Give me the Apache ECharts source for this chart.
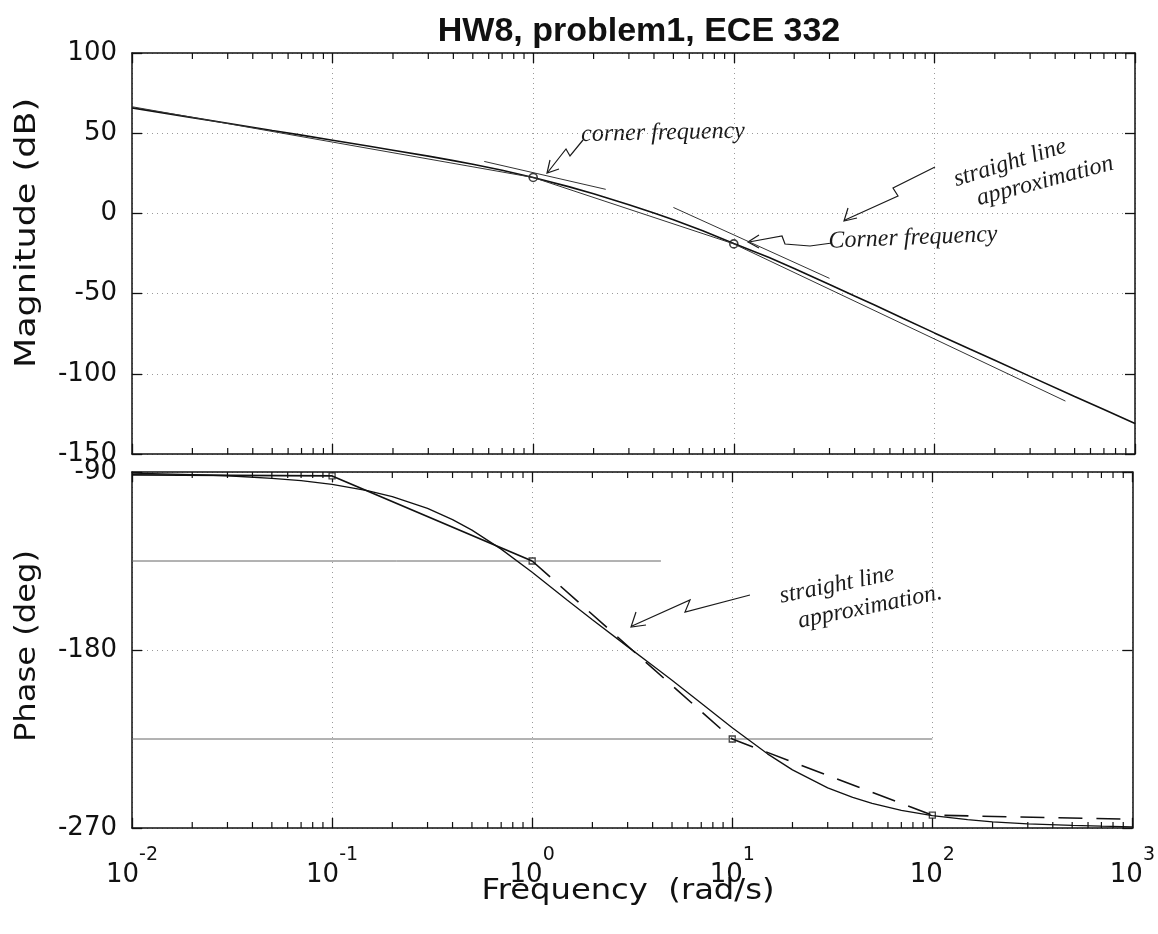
<!DOCTYPE html>
<html>
<head>
<meta charset="utf-8">
<script src="https://cdn.jsdelivr.net/npm/echarts@6/dist/echarts.min.js"></script>
<style>html,body{margin:0;background:#fff}#a{width:1158px;height:934px}</style>
</head>
<body>
<div id="a"></div>
<script>
// bode data
var freq = [0.01,0.02,0.03,0.05,0.07,0.1,0.15,0.2,0.3,0.4,0.5,0.7,1,1.5,2,3,4,5,7,10,15,20,30,40,50,70,100,150,200,300,500,700,1000];
var magDb = [65.8,59.7,56.2,51.7,48.8,45.6,42.0,39.4,35.7,32.9,30.6,26.9,22.4,16.7,12.2,5.4,0.2,-4.0,-10.8,-18.8,-27.5,-34.3,-44.3,-51.5,-57.0,-65.5,-74.5,-84.6,-91.6,-101.6,-114.2,-122.3,-131.0];
var phaseDeg = [-90.6,-91.3,-91.9,-93.2,-94.4,-96.3,-99.4,-102.5,-108.4,-114.1,-119.4,-129.0,-140.7,-154.8,-164.7,-178.3,-187.8,-195.3,-206.9,-219.3,-232.5,-240.6,-249.7,-254.5,-257.5,-261.1,-263.7,-265.8,-266.9,-267.9,-268.7,-269.1,-269.4];

// hand drawn straight line approximations
var magApproxFreq = [0.01, 1, 10, 450];
var magApproxDb = [66.5, 22.4, -19.0, -117];
var tangent1Freq = [0.57, 2.3];
var tangent1Db = [32.4, 15];
var tangent2Freq = [5, 30];
var tangent2Db = [3.7, -40.5];
var cornerFreq = [1, 10];
var cornerDb = [22.4, -19.0];

var phaseSolidFreq = [0.01, 0.1, 1];
var phaseSolidDeg = [-91.5, -92, -135];
var phaseDashFreq = [1, 10, 100, 900];
var phaseDashDeg = [-135, -225, -263.5, -265.5];
var guide1Freq = [0.01, 4.4];
var guide1Deg = [-135, -135];
var guide2Freq = [0.01, 100];
var guide2Deg = [-225, -225];
var breakFreq = [0.1, 1, 10, 100];
var breakDeg = [-92, -135, -225, -263.5];

var minorTicks = [0.02,0.03,0.04,0.05,0.06,0.07,0.08,0.09,
  0.2,0.3,0.4,0.5,0.6,0.7,0.8,0.9,
  2,3,4,5,6,7,8,9,
  20,30,40,50,60,70,80,90,
  200,300,400,500,600,700,800,900];

function pairs(xs, ys) { return xs.map(function (x, i) { return [x, ys[i]]; }); }

var ink = '#111';
var labelFont = 'DejaVu Sans';

function xAx(grid, pos, labels) {
  return {
    type: 'log', logBase: 10, gridIndex: grid, position: pos, min: 0.01, max: 1000,
    axisLine: { show: true, onZero: false, lineStyle: { color: ink, width: 1.5 } },
    axisTick: { show: true, inside: true, length: 10, lineStyle: { color: ink, width: 1.3 } },
    splitLine: { show: pos === 'bottom', lineStyle: { color: '#9a9a9a', type: [1, 4], width: 1 } },
    axisLabel: labels ? {
      margin: 18,
      formatter: function (v) {
        var e = Math.round(Math.log10(v));
        return '{b|10}{s|' + e + '}';
      },
      rich: {
        b: { fontSize: 26, fontFamily: labelFont, color: ink, lineHeight: 58 },
        s: { fontSize: 19, fontFamily: labelFont, color: ink, lineHeight: 19, verticalAlign: 'top' }
      }
    } : { show: false }
  };
}

function yAx(grid, pos, min, max, step, labels) {
  return {
    type: 'value', gridIndex: grid, position: pos, min: min, max: max, interval: step,
    axisLine: { show: true, onZero: false, lineStyle: { color: ink, width: 1.5 } },
    axisTick: { show: true, inside: true, length: 10, lineStyle: { color: ink, width: 1.3 } },
    splitLine: { show: pos === 'left', lineStyle: { color: '#9a9a9a', type: [1, 4], width: 1 } },
    axisLabel: labels ? { margin: 15, fontSize: 26, fontFamily: labelFont, color: ink } : { show: false }
  };
}

function tickItem(params, api) {
  var cs = params.coordSys;
  var x = api.coord([api.value(0), api.value(1)])[0];
  var yb = cs.y + cs.height, yt = cs.y;
  var st = { stroke: ink, lineWidth: 1.2 };
  return { type: 'group', children: [
    { type: 'line', shape: { x1: x, y1: yb, x2: x, y2: yb - 6 }, style: st },
    { type: 'line', shape: { x1: x, y1: yt, x2: x, y2: yt + 6 }, style: st }
  ] };
}

function line(name, xi, yi, data, width, type, color) {
  return {
    name: name, type: 'line', xAxisIndex: xi, yAxisIndex: yi, data: data,
    showSymbol: false, silent: true, animation: false,
    lineStyle: { color: color || ink, width: width, type: type || 'solid' }
  };
}

var hand = { fontFamily: 'Liberation Serif', fontStyle: 'italic', fontSize: 24, fill: '#1a1a1a' };
function note(text, x, y, rot) {
  return { type: 'text', x: x, y: y, rotation: rot, style: Object.assign({ text: text, align: 'center', verticalAlign: 'middle' }, hand) };
}
function stroke(points) {
  return { type: 'polyline', shape: { points: points }, style: { stroke: '#1a1a1a', lineWidth: 1.2, fill: null } };
}
function axisTitle(text, x, y, rot, sx) {
  return { type: 'text', x: x, y: y, rotation: rot, scaleX: sx,
    style: { text: text, fontFamily: labelFont, fontSize: 28, fill: ink, align: 'center', verticalAlign: 'middle' } };
}

var chart = echarts.init(document.getElementById('a'));
var option = {
  backgroundColor: '#fff',
  animation: false,
  title: {
    text: 'HW8, problem1, ECE 332', left: 634, top: 10, textAlign: 'center',
    textStyle: { fontFamily: 'Liberation Sans', fontWeight: 'bold', fontSize: 34, color: ink }
  },
  grid: [
    { left: 132, top: 53, width: 1003, height: 401 },
    { left: 132, top: 472, width: 1003, height: 356 }
  ],
  xAxis: [xAx(0, 'bottom', false), xAx(0, 'top', false), xAx(1, 'bottom', true), xAx(1, 'top', false)],
  yAxis: [
    yAx(0, 'left', -150, 100, 50, true), yAx(0, 'right', -150, 100, 50, false),
    yAx(1, 'left', -270, -90, 90, true), yAx(1, 'right', -270, -90, 90, false)
  ],
  series: [
    line('magnitude', 0, 0, pairs(freq, magDb), 1.6),
    line('mag approx', 0, 0, pairs(magApproxFreq, magApproxDb), 1, 'solid', '#333'),
    line('tangent 1', 0, 0, pairs(tangent1Freq, tangent1Db), 1, 'solid', '#333'),
    line('tangent 2', 0, 0, pairs(tangent2Freq, tangent2Db), 1, 'solid', '#333'),
    {
      type: 'scatter', xAxisIndex: 0, yAxisIndex: 0, data: pairs(cornerFreq, cornerDb),
      symbol: 'circle', symbolSize: 8, silent: true,
      itemStyle: { color: '#fff', borderColor: ink, borderWidth: 1.6 }
    },
    { type: 'custom', xAxisIndex: 0, yAxisIndex: 0, renderItem: tickItem, silent: true,
      data: minorTicks.map(function (f) { return [f, -150]; }) },

    line('phase guide -135', 2, 2, pairs(guide1Freq, guide1Deg), 1, 'solid', '#666'),
    line('phase guide -225', 2, 2, pairs(guide2Freq, guide2Deg), 1, 'solid', '#666'),
    line('phase', 2, 2, pairs(freq, phaseDeg), 1.3),
    line('phase approx', 2, 2, pairs(phaseSolidFreq, phaseSolidDeg), 1.8),
    line('phase approx dashed', 2, 2, pairs(phaseDashFreq, phaseDashDeg), 1.6, [24, 14]),
    {
      type: 'scatter', xAxisIndex: 2, yAxisIndex: 2, data: pairs(breakFreq, breakDeg),
      symbol: 'rect', symbolSize: 6, silent: true,
      itemStyle: { color: '#fff', borderColor: ink, borderWidth: 1.3 }
    },
    { type: 'custom', xAxisIndex: 2, yAxisIndex: 2, renderItem: tickItem, silent: true,
      data: minorTicks.map(function (f) { return [f, -270]; }) }
  ],
  graphic: [
    axisTitle('Magnitude (dB)', 28, 233, Math.PI / 2, 1.25),
    axisTitle('Phase (deg)', 28, 646, Math.PI / 2, 1.15),
    axisTitle('Frequency  (rad/s)', 628, 892, 0, 1.15),

    note('corner frequency', 663, 133, 0.02),
    stroke([[583, 140], [570, 156], [566, 149], [548, 172]]),
    stroke([[550, 160], [547, 173], [559, 169]]),

    note('straight line', 1010, 163, 0.3),
    note('approximation', 1045, 181, 0.26),
    stroke([[935, 167], [893, 188], [898, 196], [845, 220]]),
    stroke([[848, 208], [844, 221], [857, 218]]),

    note('Corner frequency', 913, 238, 0.04),
    stroke([[832, 243], [810, 246], [785, 244], [782, 236], [749, 242]]),
    stroke([[759, 235], [748, 242], [759, 248]]),

    note('straight line', 837, 585, 0.2),
    note('approximation.', 870, 607, 0.2),
    stroke([[750, 595], [685, 612], [690, 600], [632, 626]]),
    stroke([[636, 612], [631, 627], [646, 625]])
  ]
};
chart.setOption(option);
</script>
</body>
</html>
